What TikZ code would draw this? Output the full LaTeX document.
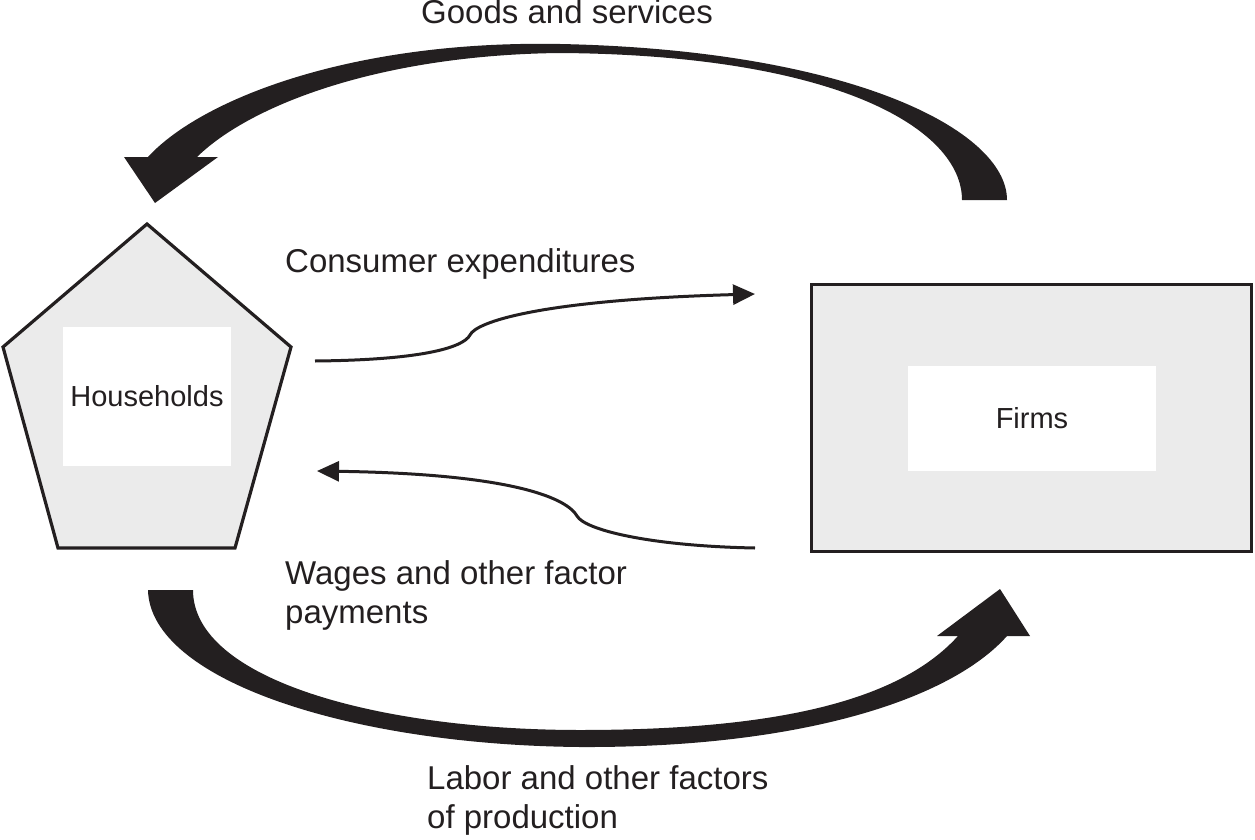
\documentclass[tikz,border=0pt]{standalone}
\usepackage{fontspec}
\setmainfont{Liberation Sans}
\usetikzlibrary{arrows.meta}
\definecolor{boxgray}{HTML}{EBEBEB}
\definecolor{ink}{HTML}{231F20}
\begin{document}
\begin{tikzpicture}[x=1pt,y=-1pt,
  lbl/.style={anchor=base west,inner sep=0pt,font=\fontsize{33}{39}\selectfont,text=ink},
  boxtxt/.style={fill=white,inner sep=0pt,font=\fontsize{29}{34}\selectfont,text=ink},
  outline/.style={draw=ink,line width=3.2pt,fill=boxgray,line join=miter},
  thin/.style={draw=ink,line width=3pt,-{Triangle[length=22pt,width=20pt]}},
  fat/.style={fill=ink,draw=none}]
\useasboundingbox (0,0) rectangle (1255,840);

% Households pentagon
\coordinate (pT) at (147,224);
\coordinate (pR) at (291,347);
\coordinate (pBR) at (235,548);
\coordinate (pBL) at (58,548);
\coordinate (pL) at (3,347);
\path[outline] (pT) -- (pR) -- (pBR) -- (pBL) -- (pL) -- cycle;
\node[boxtxt,minimum width=168pt,minimum height=139pt] (hh) at (147,396.5) {Households};

% Firms rectangle
\node[outline,minimum width=440pt,minimum height=267pt,inner sep=0pt] (firmsbox) at (1031.5,418) {};
\node[boxtxt,minimum width=248pt,minimum height=105pt] (firms) at (1032,418.5) {Firms};

% thin connectors
\coordinate (c1s) at (315,361);
\coordinate (c1e) at (755,294);
\coordinate (w1s) at (755,548);
\coordinate (w1e) at (317,471);
\draw[thin] (c1s) .. controls (420,360) and (463,348) .. (470,335)
  .. controls (476,322) and (540,300) .. (c1e);
\draw[thin] (w1s) .. controls (650,546) and (585,530) .. (577,516)
  .. controls (568,500) and (520,474) .. (w1e);

% Goods and services (top thick arrow)
\coordinate (gS1) at (1007,200);
\coordinate (gS2) at (962,200);
\coordinate (gTip) at (155,203);
\path[fat] (gS1) .. controls (1007,130) and (850,50) .. (560,44)
  .. controls (350,40) and (200,100) .. (148,157)
  -- (124,157) -- (gTip) -- (218,157) -- (197,157)
  .. controls (250,105) and (380,55) .. (560,53)
  .. controls (840,55) and (962,130) .. (gS2) -- cycle;

% Labor (bottom thick arrow)
\coordinate (lS1) at (148,590);
\coordinate (lS2) at (193,590);
\coordinate (lTip) at (1000,589);
\path[fat] (lS1) .. controls (150,680) and (350,745) .. (580,747)
  .. controls (800,748) and (950,700) .. (1007,636)
  -- (1030,636) -- (lTip) -- (937,636) -- (958,636)
  .. controls (900,700) and (780,730) .. (580,730)
  .. controls (380,730) and (193,680) .. (lS2) -- cycle;

% labels
\node[lbl] (goods) at (421,24) {Goods and services};
\node[lbl] (cons) at (285,272) {Consumer expenditures};
\node[lbl] (wages1) at (285,584) {Wages and other factor};
\node[lbl] (wages2) at (285,623) {payments};
\node[lbl] (labor1) at (427,789) {Labor and other factors};
\node[lbl] (labor2) at (427,828) {of production};
\end{tikzpicture}
\end{document}
